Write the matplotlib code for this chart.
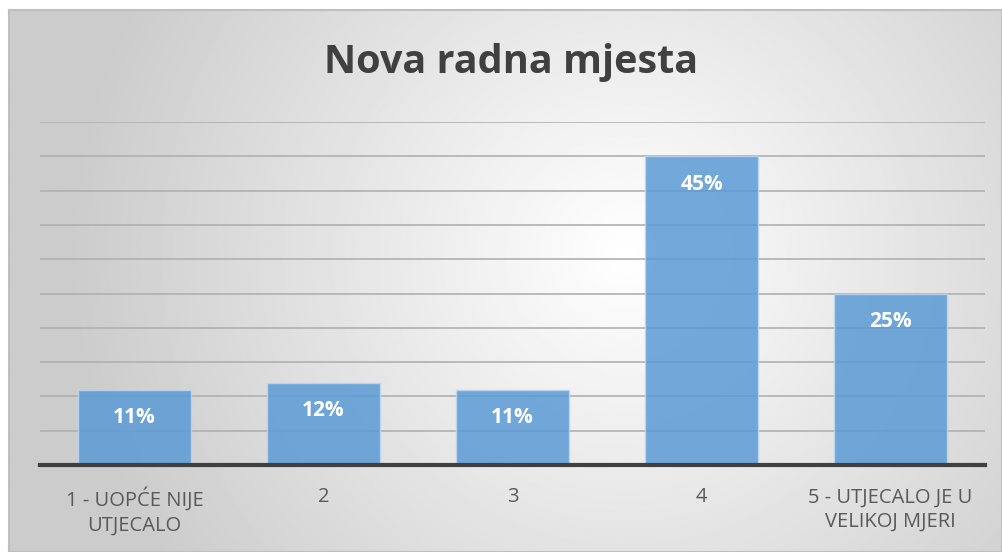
import numpy as np
import matplotlib.pyplot as plt

categories = ["1 - UOPĆE NIJE\nUTJECALO", "2", "3", "4", "5 - UTJECALO JE U\nVELIKOJ MJERI"]
values = [11, 12, 11, 45, 25]
labels = ["11%", "12%", "11%", "45%", "25%"]

plt.rcParams['font.family'] = ['Open Sans', 'DejaVu Sans']

fig = plt.figure(figsize=(10.02, 5.52), dpi=100)

# gradient background (radial, light center)
bg = fig.add_axes([0.009, 0.0, 0.991, 0.982])
h, w = 300, 540
yy, xx = np.mgrid[0:h, 0:w]
cx, cy = 0.62 * w, 0.45 * h
r = np.sqrt(((xx - cx) / w) ** 2 + ((yy - cy) / h * 0.55) ** 2)
g = np.clip(1.0 - r * 0.36, 0.8, 1.0)
bg.imshow(g, cmap='gray', vmin=0, vmax=1, aspect='auto', extent=[0, 1, 0, 1])
bg.set_xticks([])
bg.set_yticks([])
for s in bg.spines.values():
    s.set_color('#bfbfbf')
    s.set_linewidth(1.5)

ax = fig.add_axes([0.040, 1 - 465 / 552, 0.943, (465 - 122) / 552])
ax.patch.set_alpha(0)
x = np.arange(len(categories))
ax.bar(x, values, width=0.6, color='#5b9bd5', alpha=0.85, edgecolor='#bdd7ee', linewidth=1, zorder=3)
ax.set_ylim(0, 50)
ax.set_xlim(-0.5, 4.5)
ax.set_yticks(np.arange(0, 51, 5))
ax.yaxis.grid(True, color='#b0b0b0', linewidth=1.2, zorder=0)
ax.set_yticklabels([])
ax.tick_params(axis='y', length=0)
ax.tick_params(axis='x', length=0, pad=16)
ax.set_xticks(x)
ax.set_xticklabels(categories, fontsize=14.5, color='#595959', va='top', linespacing=1.3)
for s in ['top', 'right', 'left']:
    ax.spines[s].set_visible(False)
ax.spines['bottom'].set_color('#404040')
ax.spines['bottom'].set_linewidth(3)
ax.spines['bottom'].set_zorder(4)

for xi, v, lab in zip(x, values, labels):
    ax.annotate(lab, (xi, v), xytext=(0, -28), textcoords='offset pixels',
                ha='center', va='center', color='white', fontsize=15, fontweight='bold', zorder=5)

fig.text(0.51, 1 - 63 / 552, "Nova radna mjesta", ha='center', va='center',
         fontsize=28.5, fontweight='bold', color='#404040')

fig.savefig('out.png', dpi=100)
